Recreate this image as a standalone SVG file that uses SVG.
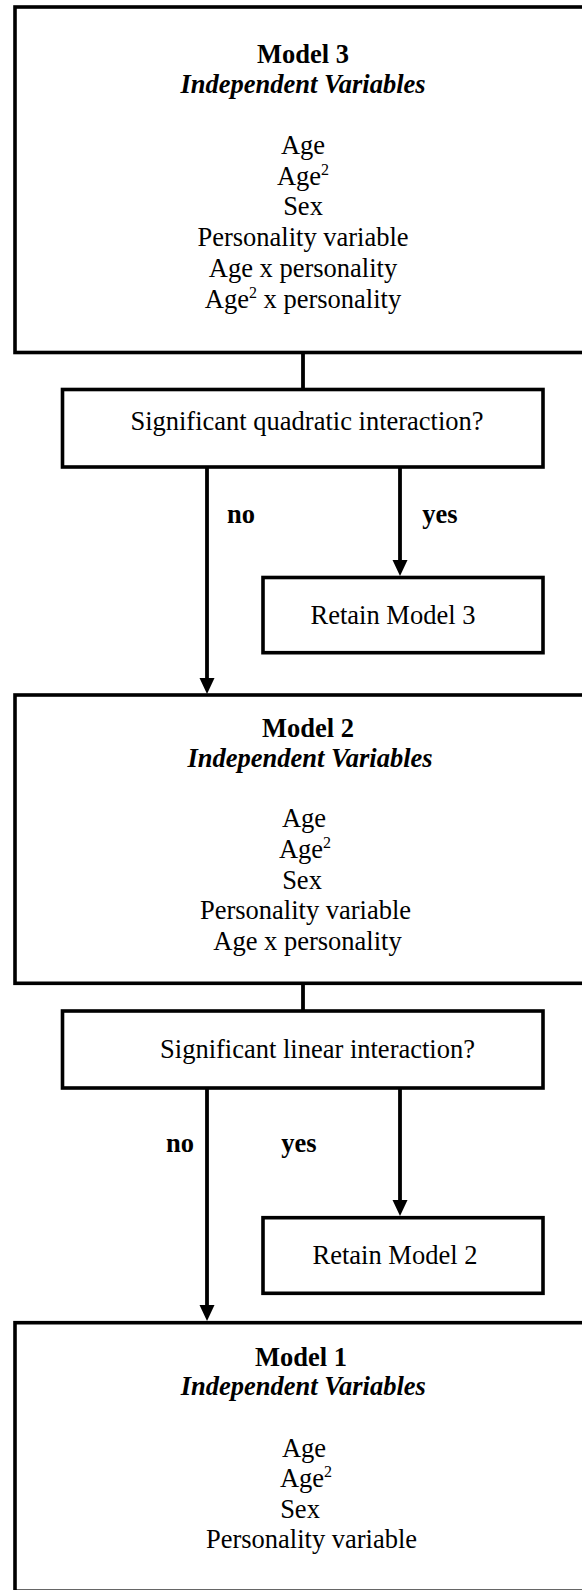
<svg xmlns="http://www.w3.org/2000/svg" width="582" height="1590" viewBox="0 0 582 1590">
  <style>
    .box { fill: #ffffff; stroke: #000000; stroke-width: 3.6; }
    .edge { stroke: #000000; stroke-width: 3.8; fill: none; }
    .t { font-family: "Liberation Serif", "Times New Roman", serif; font-size: 26.5px; fill: #000000; text-anchor: middle; }
    .b { font-weight: bold; }
    .bi { font-weight: bold; font-style: italic; }
    .sup { font-size: 16px; }
  </style>
  <defs>
    <marker id="arr" viewBox="0 0 16 16" refX="2" refY="8" markerWidth="16" markerHeight="16" markerUnits="userSpaceOnUse" orient="auto">
      <path d="M0,0.5 L16,8 L0,15.5 z" fill="#000000"/>
    </marker>
  </defs>
  <rect width="582" height="1590" fill="#ffffff"/>

  <g id="model3">
    <rect class="box" x="15" y="7" width="590" height="345.5"/>
    <text class="t b" x="303" y="62.5">Model 3</text>
    <text class="t bi" x="303" y="92.5">Independent Variables</text>
    <text class="t" x="303" y="154">Age</text>
    <text class="t" x="303" y="184.5">Age<tspan class="sup" dy="-10">2</tspan></text>
    <text class="t" x="303" y="215">Sex</text>
    <text class="t" x="303" y="246">Personality variable</text>
    <text class="t" x="303" y="277">Age x personality</text>
    <text class="t" x="303" y="307.5">Age<tspan class="sup" dy="-10">2</tspan><tspan dy="10"> x personality</tspan></text>
  </g>

  <g id="decision1">
    <rect class="box" x="62.5" y="389.5" width="480.5" height="77.5"/>
    <text class="t" x="307" y="430">Significant quadratic interaction?</text>
  </g>

  <g id="retain3">
    <rect class="box" x="263" y="577.5" width="280" height="75.2"/>
    <text class="t" x="393" y="623.5">Retain Model 3</text>
  </g>

  <g id="model2">
    <rect class="box" x="15" y="695" width="590" height="288.3"/>
    <text class="t b" x="308" y="737.3">Model 2</text>
    <text class="t bi" x="310" y="767.3">Independent Variables</text>
    <text class="t" x="304" y="827.3">Age</text>
    <text class="t" x="305" y="858.3">Age<tspan class="sup" dy="-10">2</tspan></text>
    <text class="t" x="302" y="889">Sex</text>
    <text class="t" x="305.5" y="919.3">Personality variable</text>
    <text class="t" x="307.5" y="950">Age x personality</text>
  </g>

  <g id="decision2">
    <rect class="box" x="62.5" y="1011" width="480.5" height="77"/>
    <text class="t" x="317.5" y="1058">Significant linear interaction?</text>
  </g>

  <g id="retain2">
    <rect class="box" x="263" y="1217.7" width="280" height="75.6"/>
    <text class="t" x="395" y="1264">Retain Model 2</text>
  </g>

  <g id="model1">
    <rect class="box" x="15" y="1322.7" width="590" height="268.5"/>
    <text class="t b" x="301" y="1365.7">Model 1</text>
    <text class="t bi" x="303.3" y="1395">Independent Variables</text>
    <text class="t" x="304" y="1456.7">Age</text>
    <text class="t" x="306" y="1487.3">Age<tspan class="sup" dy="-10">2</tspan></text>
    <text class="t" x="300" y="1518.3">Sex</text>
    <text class="t" x="311.5" y="1548.3">Personality variable</text>
  </g>

  <g id="connectors">
    <line class="edge" x1="303" y1="352.5" x2="303" y2="389.5"/>
    <line class="edge" x1="207" y1="467" x2="207" y2="680" marker-end="url(#arr)"/>
    <line class="edge" x1="400" y1="468" x2="400" y2="562" marker-end="url(#arr)"/>
    <line class="edge" x1="303" y1="983.3" x2="303" y2="1011"/>
    <line class="edge" x1="207" y1="1088" x2="207" y2="1307" marker-end="url(#arr)"/>
    <line class="edge" x1="400" y1="1088" x2="400" y2="1202" marker-end="url(#arr)"/>
    <text class="t b" x="241" y="522.7">no</text>
    <text class="t b" x="440" y="522.7">yes</text>
    <text class="t b" x="180" y="1151.7">no</text>
    <text class="t b" x="299" y="1151.7">yes</text>
  </g>
</svg>
